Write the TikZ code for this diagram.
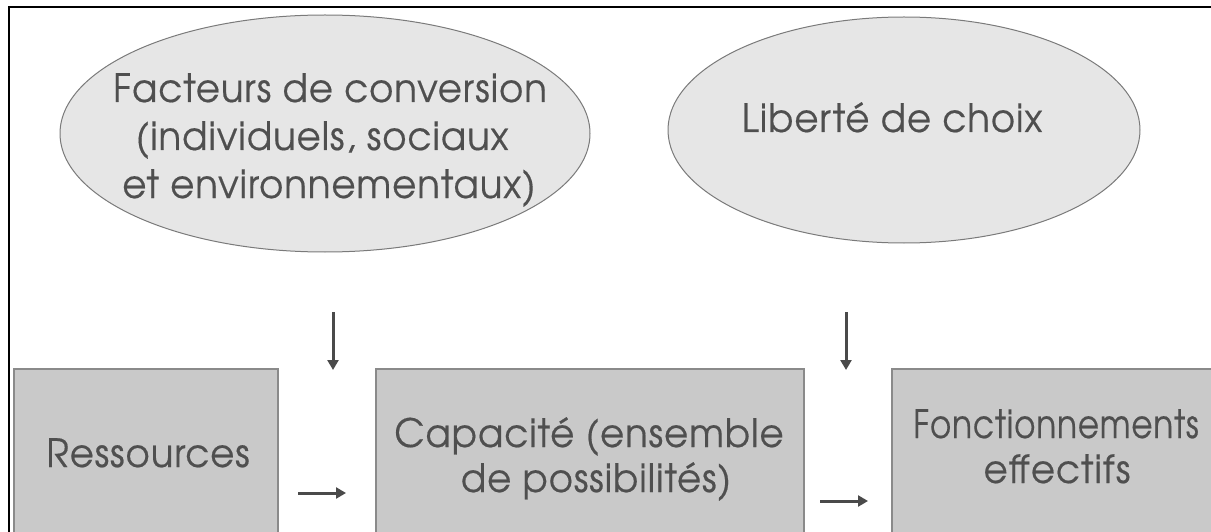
\documentclass[tikz,border=0pt]{standalone}
\usepackage{fontspec}
\setmainfont{TeX Gyre Adventor}[FakeStretch=0.95, LetterSpace=2.5, FakeBold=0.4]
\usetikzlibrary{shapes.geometric,arrows.meta}
\definecolor{ellfill}{HTML}{E6E6E6}
\definecolor{ellline}{HTML}{7A7A7A}
\definecolor{boxfill}{HTML}{C9C9C9}
\definecolor{boxline}{HTML}{8A8A8A}
\definecolor{txt}{HTML}{4F4F4F}
\definecolor{arr}{HTML}{4A4A4A}
\tikzset{
  ell/.style={ellipse, draw=ellline, fill=ellfill, line width=1pt, inner sep=0pt},
  boxn/.style={rectangle, draw=boxline, fill=boxfill, line width=1.2pt, inner sep=0pt},
  lbl/.style={anchor=base, text=txt, inner sep=0pt, font=\fontsize{39}{46}\selectfont},
  arrw/.style={draw=arr, line width=3pt, -{Triangle[length=10pt,width=11pt]}},
}
\begin{document}
\begin{tikzpicture}[x=1pt,y=-1pt]
\useasboundingbox (0,0) rectangle (1211,532);
\fill[white] (0,0) rectangle (1211,532);
% frame
\draw[line width=2.5pt, black] (9,540) -- (9,7) -- (1215,7);
% ellipses
\node[ell, minimum width=530pt, minimum height=237pt] (e1) at (325,133.5) {};
\node[ell, minimum width=472pt, minimum height=226pt] (e2) at (904,130) {};
\node[lbl] (e1a) at (330,102) {Facteurs de conversion};
\node[lbl] (e1b) at (322,150) {(individuels, sociaux};
\node[lbl] (e1c) at (329,198) {et environnementaux)};
\node[lbl] (e2a) at (892,132) {Liberté de choix};
% boxes
\node[boxn, minimum width=264pt, minimum height=165pt] (res) at (146,451.5) {};
\node[boxn, minimum width=428pt, minimum height=165pt] (cap) at (590,451.5) {};
\node[boxn, minimum width=340pt, minimum height=165pt] (fon) at (1062,451.5) {};
\node[lbl] (rest) at (148,467) {Ressources};
\node[lbl] (capa) at (589,447) {Capacité (ensemble};
\node[lbl] (capb) at (596,492) {de possibilités)};
\node[lbl] (fona) at (1056,438) {\scalebox{0.88}[1]{Fonctionnements}};
\node[lbl] (fonb) at (1057,483) {effectifs};
% arrows
\coordinate (v1s) at (333,312);
\coordinate (v1e) at (333,370);
\coordinate (v2s) at (846,312);
\coordinate (v2e) at (846,370);
\coordinate (h1s) at (298,493);
\coordinate (h1e) at (346,493);
\coordinate (h2s) at (820,501);
\coordinate (h2e) at (868,501);
\draw[arrw] (v1s) -- (v1e);
\draw[arrw] (v2s) -- (v2e);
\draw[arrw] (h1s) -- (h1e);
\draw[arrw] (h2s) -- (h2e);
\end{tikzpicture}
\end{document}
